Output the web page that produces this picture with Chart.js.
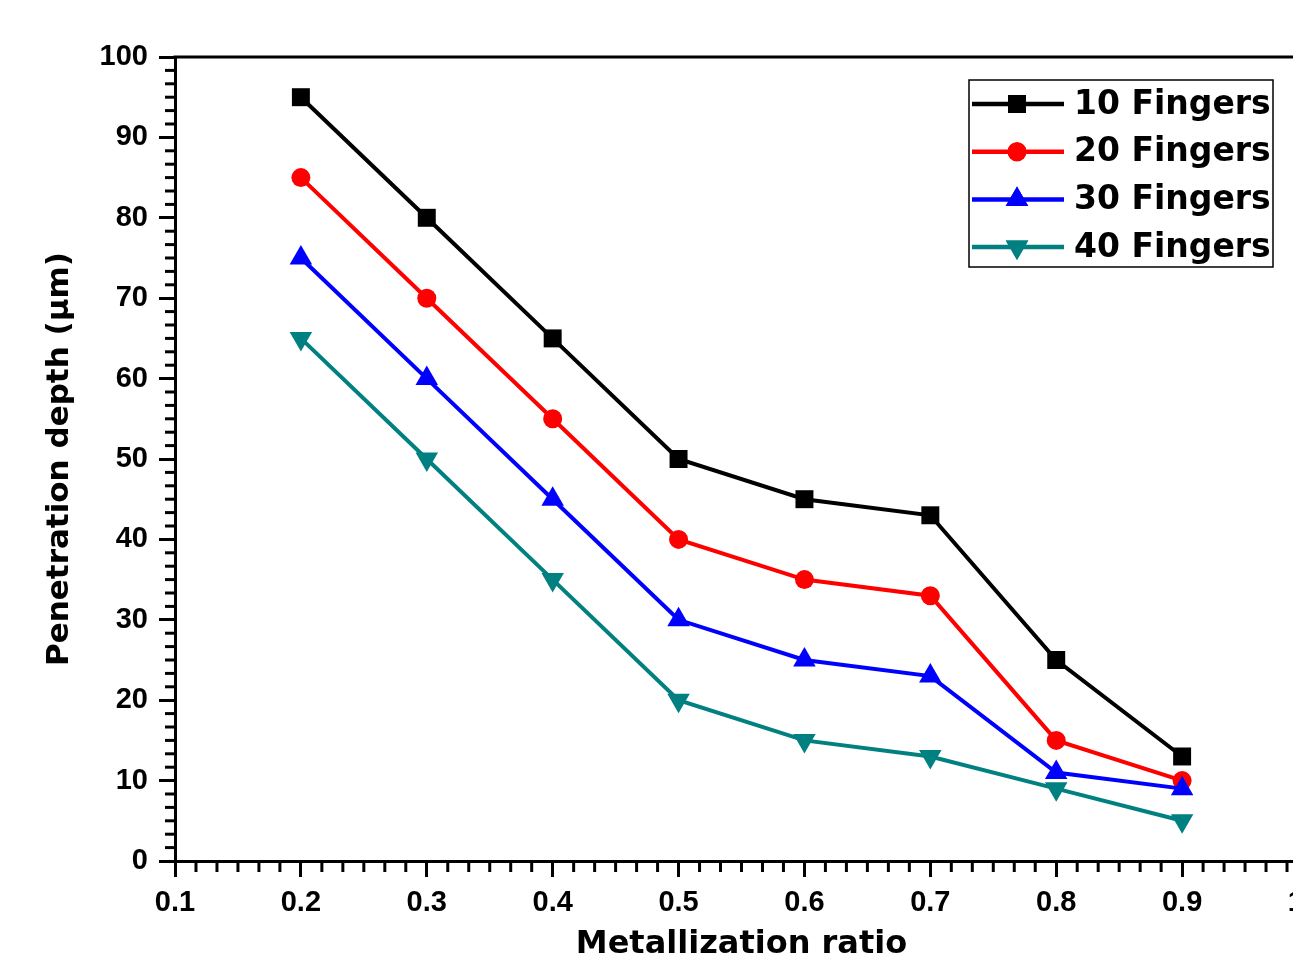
<!DOCTYPE html>
<html>
<head>
<meta charset="utf-8">
<script src="https://cdn.jsdelivr.net/npm/chart.js@4/dist/chart.umd.min.js"></script>
<style>
   html, body { margin: 0; padding: 0; background: #fff; overflow: hidden; }
</style>
</head>
<body>
<canvas id="depth-chart" width="1330" height="960"></canvas>
<script>
const ratios = [0.2, 0.3, 0.4, 0.5, 0.6, 0.7, 0.8, 0.9];
const fingers10 = [95, 80, 65, 50, 45, 43, 25, 13];
const fingers20 = [85, 70, 55, 40, 35, 33, 15, 10];
const fingers30 = [75, 60, 45, 30, 25, 23, 11, 9];
const fingers40 = [65, 50, 35, 20, 15, 13, 9, 5];
const seriesLabels = ["10 Fingers", "20 Fingers", "30 Fingers", "40 Fingers"];

function toPoints(values) {
   return ratios.map((r, i) => ({ x: r, y: values[i] }));
}

// minor ticks, top frame line and the boxed legend
const frameExtras = {
   id: "frameExtras",
   afterDraw(chart) {
      const ctx = chart.ctx;
      const area = chart.chartArea;
      const xs = chart.scales.x;
      const ys = chart.scales.y;
      ctx.save();
      ctx.strokeStyle = "#000";
      ctx.lineWidth = 3;
      ctx.beginPath();
      ctx.moveTo(area.left - 1.5, area.top);
      ctx.lineTo(area.right, area.top);
      ctx.stroke();

      ctx.lineWidth = 3;
      for (let i = 0; i <= 54; i++) {
         if (i % 6 === 0) continue;
         const px = xs.getPixelForValue(0.1 + i * (0.1 / 6));
         ctx.beginPath();
         ctx.moveTo(px, area.bottom);
         ctx.lineTo(px, area.bottom + 11);
         ctx.stroke();
      }
      for (let i = 0; i <= 60; i++) {
         if (i % 6 === 0) continue;
         const py = ys.getPixelForValue(i * (10 / 6));
         ctx.beginPath();
         ctx.moveTo(area.left, py);
         ctx.lineTo(area.left - 10, py);
         ctx.stroke();
      }

      // legend
      const boxLeft = area.right - 339;
      const boxTop = area.top + 23;
      ctx.lineWidth = 1.5;
      ctx.strokeRect(boxLeft, boxTop, 304, 187);
      chart.data.datasets.forEach((ds, i) => {
         const rowY = boxTop + 24 + i * 47.7;
         ctx.strokeStyle = ds.borderColor;
         ctx.lineWidth = 4.5;
         ctx.beginPath();
         ctx.moveTo(boxLeft + 3, rowY);
         ctx.lineTo(boxLeft + 95, rowY);
         ctx.stroke();
         ctx.fillStyle = ds.borderColor;
         Chart.helpers.drawPoint(ctx, {
            pointStyle: ds.pointStyle,
            radius: ds.pointRadius,
            rotation: ds.pointRotation || 0,
            borderWidth: 0,
         }, boxLeft + 48, rowY);
         ctx.fill();
         ctx.fillStyle = "#000";
         ctx.font = "bold 33px 'DejaVu Sans'";
         ctx.textBaseline = "middle";
         ctx.textAlign = "left";
         ctx.fillText(ds.label, boxLeft + 105, rowY + 1);
      });
      ctx.restore();
   },
};

document.addEventListener("DOMContentLoaded", function () {
   const depthCtx = document.getElementById("depth-chart").getContext("2d");
   const depthChart = new Chart(depthCtx, {
      type: "line",
      data: {
         datasets: [
            {
               label: seriesLabels[0],
               data: toPoints(fingers10),
               borderColor: "#000000",
               backgroundColor: "#000000",
               pointStyle: "rect",
               pointRadius: 12.7,
               order: 3,
            },
            {
               label: seriesLabels[1],
               data: toPoints(fingers20),
               borderColor: "#ff0000",
               backgroundColor: "#ff0000",
               pointStyle: "circle",
               pointRadius: 9.5,
               order: 2,
            },
            {
               label: seriesLabels[2],
               data: toPoints(fingers30),
               borderColor: "#0000ff",
               backgroundColor: "#0000ff",
               pointStyle: "triangle",
               pointRadius: 13,
               order: 1,
            },
            {
               label: seriesLabels[3],
               data: toPoints(fingers40),
               borderColor: "#008080",
               backgroundColor: "#008080",
               pointStyle: "triangle",
               pointRotation: 180,
               pointRadius: 13,
               order: 0,
            },
         ],
      },
      options: {
         responsive: false,
         animation: false,
         clip: false,
         elements: {
            line: { borderWidth: 4, tension: 0 },
            point: { borderWidth: 0, hoverRadius: 12 },
         },
         layout: { padding: { top: 57, right: 22, left: 0, bottom: 0 } },
         plugins: {
            legend: { display: false },
            tooltip: { enabled: false },
         },
         scales: {
            x: {
               type: "linear",
               min: 0.1,
               max: 1.0,
               afterFit(scale) {
                  scale.height = 99;
                  scale.paddingLeft = 0;
                  scale.paddingRight = 0;
               },
               ticks: {
                  stepSize: 0.1,
                  color: "#000",
                  padding: 9,
                  maxRotation: 0,
                  font: { family: "'Liberation Sans', Arial", size: 29, weight: "bold" },
                  callback: (v) => v.toFixed(1),
               },
               grid: {
                  drawOnChartArea: false,
                  drawTicks: true,
                  tickLength: 16,
                  tickWidth: 3,
                  tickColor: "#000",
               },
               border: { display: true, color: "#000", width: 3 },
               title: {
                  display: true,
                  text: "Metallization ratio",
                  color: "#000",
                  padding: { top: 0, bottom: 0 },
                  font: { family: "'DejaVu Sans'", size: 32, weight: "bold", lineHeight: 0.95 },
               },
            },
            y: {
               min: 0,
               max: 100,
               afterFit(scale) {
                  scale.width = 175;
                  scale.paddingTop = 0;
                  scale.paddingBottom = 0;
               },
               ticks: {
                  stepSize: 10,
                  color: "#000",
                  padding: 11,
                  font: { family: "'Liberation Sans', Arial", size: 29, weight: "bold" },
               },
               grid: {
                  drawOnChartArea: false,
                  drawTicks: true,
                  tickLength: 16,
                  tickWidth: 3,
                  tickColor: "#000",
               },
               border: { display: true, color: "#000", width: 3 },
               title: {
                  display: true,
                  text: "Penetration depth (\u00b5m)",
                  color: "#000",
                  padding: { top: 44, bottom: 0 },
                  font: { family: "'DejaVu Sans'", size: 31, weight: "bold", lineHeight: 1 },
               },
            },
         },
      },
      plugins: [frameExtras],
   });
});
</script>
</body>
</html>
